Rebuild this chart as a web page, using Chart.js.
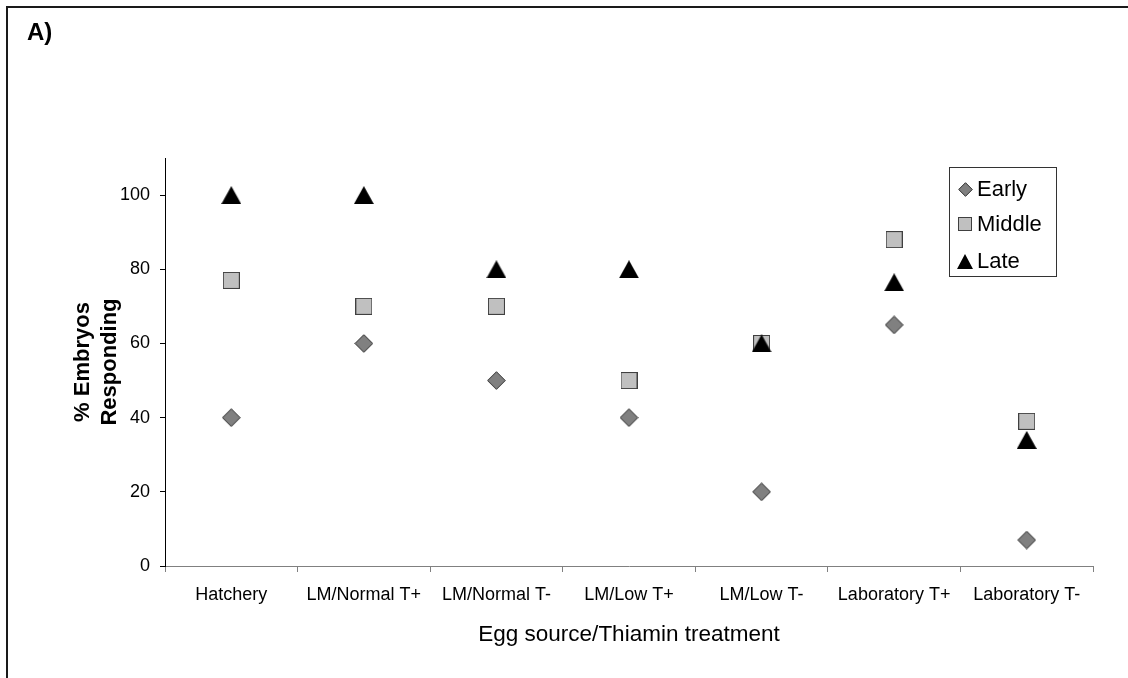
<!DOCTYPE html>
<html>
<head>
<meta charset="utf-8">
<script src="https://cdn.jsdelivr.net/npm/chart.js@4.4.1/dist/chart.umd.min.js"></script>
<style>
  html, body { margin: 0; padding: 0; background: #fff; overflow: hidden; }
  #wrap { position: relative; width: 1128px; height: 678px; }
  #c { position: absolute; left: 0; top: 0; }
  #frame { position: absolute; left: 6px; top: 6px; width: 1300px; height: 900px;
           border: 2px solid #1a1a1a; box-sizing: border-box; pointer-events: none; }
  #panel { position: absolute; left: 27px; top: 18px; color: #000;
           font: bold 24px 'Liberation Sans', Arial, sans-serif; }
</style>
</head>
<body>
<div id="wrap">
  <canvas id="c" width="1128" height="678"></canvas>
  <div id="frame"></div>
  <div id="panel">A)</div>
</div>
<script>
// Egg source / thiamin treatment groups
const categories = ['Hatchery', 'LM/Normal T+', 'LM/Normal T-', 'LM/Low T+', 'LM/Low T-', 'Laboratory T+', 'Laboratory T-'];

// % of embryos responding, by developmental stage
const seriesNames = ['Early', 'Middle', 'Late'];
const early  = [40, 60, 50, 40, 20, 65, 7];
const middle = [77, 70, 70, 50, 60, 88, 39];
const late   = [100, 100, 80, 80, 60, 76.5, 34];

const yTicks = [0, 20, 40, 60, 80, 100];

const FONT = "'Liberation Sans', Arial, sans-serif";
Chart.defaults.font.family = FONT;
Chart.defaults.color = '#000';

// Marker sprites (Excel-style diamond, square, triangle), centred on the point
function makeMarker(kind, w, h) {
  const cv = document.createElement('canvas');
  cv.width = w; cv.height = h;
  const g = cv.getContext('2d');
  g.lineWidth = 1;
  if (kind === 'diamond') {
    g.beginPath();
    g.moveTo(w / 2, 0.7); g.lineTo(w - 0.7, h / 2); g.lineTo(w / 2, h - 0.7); g.lineTo(0.7, h / 2);
    g.closePath();
    g.fillStyle = '#808080'; g.fill();
    g.strokeStyle = '#2b2b2b'; g.stroke();
  } else if (kind === 'square') {
    g.fillStyle = '#c0c0c0'; g.fillRect(0.5, 0.5, w - 1, h - 1);
    g.strokeStyle = '#404040'; g.strokeRect(0.5, 0.5, w - 1, h - 1);
  } else {
    g.beginPath();
    g.moveTo(w / 2, 0); g.lineTo(w, h); g.lineTo(0, h);
    g.closePath();
    g.fillStyle = '#000'; g.fill();
  }
  return cv;
}

const plotMarkers = [makeMarker('diamond', 19, 19), makeMarker('square', 17, 17), makeMarker('triangle', 20, 18)];
const keyMarkers  = [makeMarker('diamond', 15, 15), makeMarker('square', 14, 14), makeMarker('triangle', 16, 15)];

// Boxed key in the upper right of the plot
const keyBox = {
  id: 'keyBox',
  afterDatasetsDraw(chart) {
    const ctx = chart.ctx;
    const box = { x: 949.5, y: 167.5, w: 107, h: 109 };
    const rows = [189, 224, 261];
    ctx.save();
    ctx.fillStyle = '#fff';
    ctx.fillRect(box.x, box.y, box.w, box.h);
    ctx.strokeStyle = '#333';
    ctx.lineWidth = 1;
    ctx.strokeRect(box.x, box.y, box.w, box.h);
    ctx.font = '22px ' + FONT;
    ctx.textBaseline = 'middle';
    ctx.textAlign = 'left';
    ctx.fillStyle = '#000';
    chart.data.datasets.forEach((ds, i) => {
      const m = keyMarkers[i];
      ctx.drawImage(m, Math.round(965 - m.width / 2), Math.round(rows[i] - m.height / 2));
      ctx.fillText(ds.label, 977, rows[i] + 1);
    });
    ctx.restore();
  }
};

const seriesValues = [early, middle, late];

new Chart(document.getElementById('c'), {
  type: 'line',
  data: {
    labels: categories,
    datasets: seriesNames.map((name, i) => ({
      label: name,
      data: seriesValues[i],
      showLine: false,
      pointStyle: plotMarkers[i],
      pointRadius: 9,
      pointHoverRadius: 9,
      order: 2 - i
    }))
  },
  options: {
    responsive: false,
    animation: false,
    events: [],
    devicePixelRatio: 1,
    layout: { padding: { left: 0, top: 158, right: 35, bottom: 0 } },
    plugins: {
      legend: { display: false },
      tooltip: { enabled: false },
      title: { display: false }
    },
    scales: {
      x: {
        type: 'category',
        offset: true,
        grid: { display: true, offset: true, drawOnChartArea: false, drawTicks: true, tickLength: 6, color: '#808080' },
        border: { display: true, color: '#808080', width: 1 },
        ticks: { color: '#000', font: { size: 18 }, padding: 12, maxRotation: 0, autoSkip: false },
        title: {
          display: true,
          text: 'Egg source/Thiamin treatment',
          color: '#000',
          font: { size: 22.5, lineHeight: 1.2 },
          padding: { top: 0, bottom: 30 }
        },
        afterFit: (s) => { s.height = 112; }
      },
      y: {
        type: 'linear',
        min: 0,
        max: 110,
        afterBuildTicks: (s) => { s.ticks = yTicks.map(v => ({ value: v })); },
        grid: { display: true, drawOnChartArea: false, drawTicks: true, tickLength: 5, color: '#000' },
        border: { display: true, color: '#000', width: 1 },
        ticks: { color: '#000', font: { size: 18 }, padding: 10 },
        title: {
          display: true,
          text: ['% Embryos', 'Responding'],
          color: '#000',
          font: { size: 22, weight: 'bold', lineHeight: 1.2 },
          padding: { top: 70, bottom: 0 }
        },
        afterFit: (s) => { s.width = 165; }
      }
    }
  },
  plugins: [keyBox]
});
</script>
</body>
</html>
